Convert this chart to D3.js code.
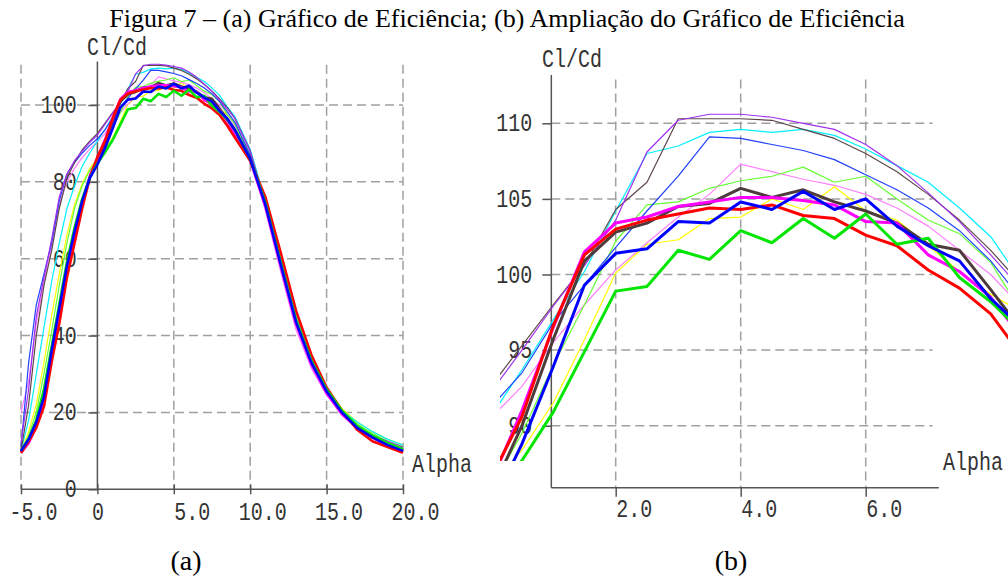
<!DOCTYPE html>
<html lang="pt">
<head>
<meta charset="utf-8">
<title>Figura 7</title>
<script src="https://cdn.jsdelivr.net/npm/d3@7"></script>
<style>
  body { margin: 0; background: #fff; }
  .mono { font-family: "Liberation Mono", "Courier New", monospace; font-size: 20px; fill: #333; }
  .serif { font-family: "Liberation Serif", "Times New Roman", serif; fill: #000; }
  .grid { stroke: #a0a0a0; stroke-width: 1.5; stroke-dasharray: 9,5; }
  .ax { stroke: #555; stroke-width: 1.5; }
  .tk line { stroke: #555; stroke-width: 1.5; }
  .tk path { display: none; }
</style>
</head>
<body>
<svg id="chart" width="1008" height="583"></svg>
<script>
// angle of attack (deg)
var alpha = [-5,-4.5,-4,-3.5,-3,-2.5,-2,-1.5,-1,-0.5,0,0.5,1,1.5,2,2.5,3,3.5,4,4.5,5,5.5,6,6.5,7,7.5,8,8.5,9,10,11,12,13,14,15,16,17,18,19,20];

// Cl/Cd per polar
var purple  = [12,26,45,55,65,76,82,85.5,88,90.3, 92.2,95.0,97.9,100.6,103.6,108.1,110.2,110.6,110.6,110.4,110.0,109.6,108.6,107.2,105.4,103.5,101.3,99.0,96.5, 88,74,58.5,43.5,33,25.5,20,16.5,14,12.5,11];
var brownThin = [10,22,40,53,62,73,81,85,88.3,90.6, 92.6,95.3,98.0,100.6,104.3,106.1,110.3,110.3,110.3,110.2,109.6,109.0,108.0,106.8,105.3,103.6,101.6,99.3,96.5, 88,74,58.5,43.5,33,25.5,20,16.5,14,12,10.5];
var cyan    = [10,18,30,42,54,64,73,79,84,87.5, 90.6,93.7,97.0,100.2,104.2,108.0,108.5,109.4,109.6,109.4,109.6,109.2,108.3,107.2,106.1,104.4,102.5,99.5,97, 88.5,75,60,45,34,26,20.5,17.5,15,13,11.5];
var blueThin = [11,33,48,56,64,75,82,85,87.5,89.5, 91.2,93.5,96.8,99.3,101.8,104.2,106.5,109.1,109.0,108.6,108.2,107.6,106.6,105.6,104.4,102.9,100.9,98.3,95.5, 87,73.5,58,43,32.5,25,19.5,16,13.5,11.5,10];
var pink    = [20,28,43,54,63,74,80,83.5,86.3,88.5, 90.5,92.6,95.5,98.0,100.3,102.1,103.8,105.3,107.3,106.8,106.3,105.9,105.3,104.4,103.2,101.6,100.0,97.8,94.5, 86,72.5,56.5,41.5,31.5,24.5,19.5,16.5,14,12,10.5];
var lightGreen = [10,14,20,30,41,53,64,73,79,83, 85.8,89.5,94.0,98.0,102.2,104.6,104.8,105.7,106.2,106.5,107.1,106.1,106.5,105.0,103.6,102.7,100.8,97.5,95, 86.5,74.5,59.5,44.5,33.5,26,20.5,17,14.5,12.5,11];
var yellow  = [10,15,22,33,45,56,66,74,79.5,83.5, 86.0,88.4,91.5,95.7,100.1,102.0,102.3,103.7,103.8,105.0,104.3,105.8,104.2,103.6,101.9,100.2,98.7,97.5,95, 87,75,60,45,34,26.5,21,17.5,15,13,11.5];
var red     = [9.5,12.5,16,21.5,33,43,55,64,73,81, 86.5,90.6,96.6,101.3,103.0,103.6,104.0,104.4,104.3,104.6,103.9,103.7,102.6,101.9,100.3,99.1,97.4,94.6,91.5, 85.5,76,61.5,46.5,35,26.5,20.5,15.5,12.5,11,9.5];
var green   = [10,13,18,26,37,48,59,68,75.5,81, 84.8,87.7,90.9,94.9,98.9,99.2,101.6,101.0,102.9,102.1,103.7,102.4,104.0,102.0,102.4,99.8,98.2,96.2,93.5, 86,74.5,59,44,33.5,26,20.5,16.5,14,12,10.5];
var blue    = [10,13,17.5,24,36,47,58,67,75,81, 84.5,88.8,93.9,99.3,101.4,101.7,103.5,103.4,104.8,104.3,105.5,104.3,105.0,103.2,101.9,100.9,98.4,96.5,93.5, 86,74,58.5,43.5,33,25.5,20,16,13.5,11.5,10];
var magenta = [9.5,12,16.5,23,34,45,57,66,74.5,81.5, 86.2,91.0,96.5,101.5,103.4,103.8,104.5,104.8,105.1,105.1,104.9,104.6,103.5,103.4,101.3,100.2,98.5,95.8,92.5, 85.5,73.5,58,43,32.5,25,19.5,16,13.5,11.5,10];
var brown   = [9.5,12.5,17,24,35,46,57,66,74.5,81, 85.5,90.0,95.7,100.9,102.8,103.4,104.5,104.7,105.7,105.1,105.6,104.8,104.2,103.4,102.0,101.6,99.0,96.3,93, 86,74,58.5,43.5,33,25.5,20,16,13.5,11.5,10];

var leftXTicks = [-5, 0, 5, 10, 15, 20];
var leftYTicks = [0, 20, 40, 60, 80, 100];
var rightXTicks = [2, 4, 6];
var rightYTicks = [90, 95, 100, 105, 110];

var series = [
  {v: yellow, c: "#ffff00", thick: false},
  {v: pink, c: "#ff80ff", thick: false},
  {v: lightGreen, c: "#66ff33", thick: false},
  {v: cyan, c: "#00f0ff", thick: false},
  {v: blueThin, c: "#2040ff", thick: false},
  {v: brownThin, c: "#5e4848", thick: false},
  {v: purple, c: "#a030f0", thick: false},
  {v: brown, c: "#4e3b3b", thick: true},
  {v: magenta, c: "#ff00ff", thick: true},
  {v: red, c: "#ff0000", thick: true},
  {v: green, c: "#00e600", thick: true},
  {v: blue, c: "#0000ff", thick: true}
];

var svg = d3.select("#chart");
var SY = 1.3; // glyphs in the picture are taller than Courier's

function mono(g, x, y, txt, anchor) {
  return g.append("text").attr("class", "mono")
    .attr("transform", "translate(" + x + "," + y + ") scale(1," + SY + ")")
    .attr("text-anchor", anchor || "start")
    .text(txt);
}

function xLabel(d) {
  if (d === 0) return "0";
  return d.toFixed(1);
}

function panel(o) {
  var g = svg.append("g");
  var x = d3.scaleLinear().domain(o.xd).range(o.xr);
  var y = d3.scaleLinear().domain(o.yd).range(o.yr);
  var ax0 = x(o.yAxisAt), ay0 = y(o.xAxisAt);

  // dashed grid
  g.selectAll(".gv").data(o.xGrid).join("line").attr("class", "grid")
    .attr("x1", d => x(d)).attr("x2", d => x(d))
    .attr("y1", y(o.gridTop)).attr("y2", ay0);
  g.selectAll(".gh").data(o.yGrid).join("line").attr("class", "grid")
    .attr("x1", x(o.gridLeft)).attr("x2", x(o.gridRight))
    .attr("y1", d => y(d)).attr("y2", d => y(d));

  // axes lines
  g.append("line").attr("class", "ax")
    .attr("x1", x(o.gridLeft)).attr("x2", x(o.axisRight))
    .attr("y1", ay0).attr("y2", ay0);
  g.append("line").attr("class", "ax")
    .attr("x1", ax0).attr("x2", ax0)
    .attr("y1", y(o.axisTop)).attr("y2", ay0);

  // x ticks + labels
  var gx = g.append("g").attr("class", "tk")
    .attr("transform", "translate(0," + (ay0 + o.tickOff) + ")")
    .call(d3.axisBottom(x).tickValues(o.xTicks).tickSize(o.tickLen).tickFormat(xLabel));
  gx.selectAll("text")
    .attr("class", "mono")
    .attr("dy", null)
    .attr("text-anchor", d => d === 0 ? "middle" : "start")
    .attr("x", d => d === 0 ? 0 : -12 * (xLabel(d).indexOf(".") - 1))
    .attr("y", o.xLabelDy / SY)
    .attr("transform", "scale(1," + SY + ")");

  // y ticks + labels
  var gy = g.append("g").attr("class", "tk")
    .attr("transform", "translate(" + ax0 + ",0)")
    .call(d3.axisLeft(y).tickValues(o.yTicks).tickSize(9).tickFormat(d3.format("d")));
  gy.selectAll("text")
    .attr("class", "mono")
    .attr("dy", null)
    .attr("text-anchor", "end")
    .attr("x", -o.yLabelGap)
    .attr("y", 7.5 / SY)
    .attr("transform", "scale(1," + SY + ")");

  // curves
  var cg = g.append("g");
  if (o.clip) {
    svg.append("clipPath").attr("id", o.clip.id).append("rect")
      .attr("x", o.clip.x).attr("y", o.clip.y)
      .attr("width", o.clip.w).attr("height", o.clip.h);
    cg.attr("clip-path", "url(#" + o.clip.id + ")");
  }
  var line = d3.line().x((d, i) => x(alpha[i])).y(d => y(d));
  cg.selectAll("path").data(series).join("path")
    .attr("d", s => line(s.v))
    .attr("fill", "none")
    .attr("stroke", s => s.c)
    .attr("stroke-width", s => s.thick ? o.thickW : 1.2)
    .attr("stroke-linejoin", "round");

  mono(g, o.yTitle[0], o.yTitle[1], "Cl/Cd");
  mono(g, o.xTitle[0], o.xTitle[1], "Alpha");
}

// (a) full range
panel({
  xd: [-5, 20], xr: [21, 403],
  yd: [0, 100], yr: [489.3, 105],
  xAxisAt: 0, yAxisAt: 0,
  gridTop: 110.5, gridLeft: -5, gridRight: 20, axisRight: 20, axisTop: 111.3,
  xGrid: [-5, 5, 10, 15, 20], yGrid: [20, 40, 60, 80, 100],
  xTicks: leftXTicks, yTicks: leftYTicks,
  tickOff: -5, tickLen: 10, xLabelDy: 35.7, yLabelGap: 20.6,
  thickW: 2.6,
  yTitle: [87, 55], xTitle: [412, 472]
});

// (b) zoom around the peak
panel({
  xd: [2, 6], xr: [615.7, 865.7],
  yd: [90, 110], yr: [425.7, 123.3],
  xAxisAt: 85.9, yAxisAt: 0.97,
  gridTop: 112.9, gridLeft: 0.97, gridRight: 7.07, axisRight: 7.17, axisTop: 113.2,
  xGrid: [2, 4, 6], yGrid: [90, 95, 100, 105, 110],
  xTicks: rightXTicks, yTicks: rightYTicks,
  tickOff: 0, tickLen: 9, xLabelDy: 29.3, yLabelGap: 19,
  thickW: 3,
  clip: {id: "clipB", x: 500, y: 60, w: 508, h: 401},
  yTitle: [542, 67], xTitle: [943, 470]
});

svg.append("text").attr("class", "serif")
  .attr("x", 507).attr("y", 27).attr("text-anchor", "middle")
  .attr("font-size", 26)
  .text("Figura 7 – (a) Gráfico de Eficiência; (b) Ampliação do Gráfico de Eficiência");
svg.append("text").attr("class", "serif")
  .attr("x", 186).attr("y", 570).attr("text-anchor", "middle")
  .attr("font-size", 28).text("(a)");
svg.append("text").attr("class", "serif")
  .attr("x", 731).attr("y", 570).attr("text-anchor", "middle")
  .attr("font-size", 28).text("(b)");
</script>
</body>
</html>
